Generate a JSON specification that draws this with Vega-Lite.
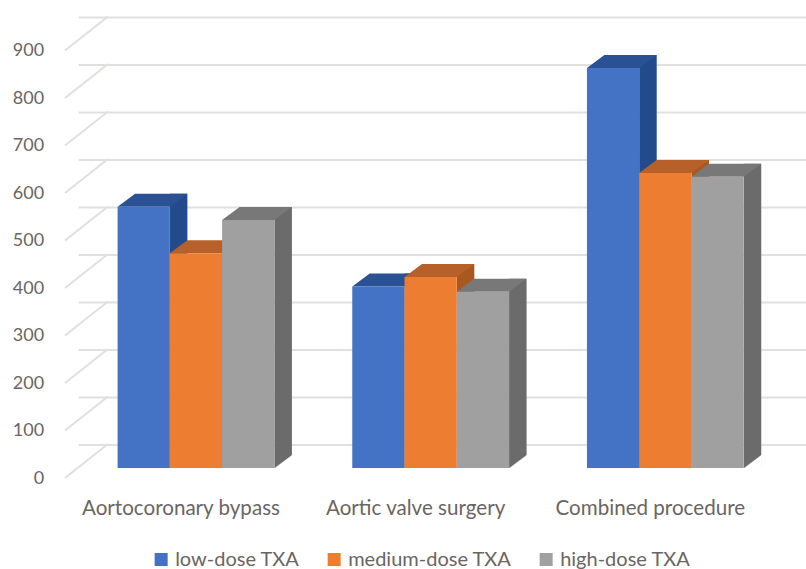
{"$schema":"https://vega.github.io/schema/vega-lite/v6.json","width":704,"height":427.5,"autosize":{"type":"none"},"padding":{"left":78.65,"top":40.5,"right":23.35,"bottom":101},"background":"white","view":{"stroke":null},"config":{"axisY":{"domain":false,"ticks":false,"grid":false,"tickCount":10,"labelPadding":35,"labelOffset":10,"labelFont":"Lato","labelFontSize":18,"labelColor":"#6a6563"}},"datasets":{"bars":[{"procedure":"Aortocoronary bypass","series":"low-dose TXA","value":550},{"procedure":"Aortocoronary bypass","series":"medium-dose TXA","value":452},{"procedure":"Aortocoronary bypass","series":"high-dose TXA","value":522},{"procedure":"Aortic valve surgery","series":"low-dose TXA","value":382},{"procedure":"Aortic valve surgery","series":"medium-dose TXA","value":402},{"procedure":"Aortic valve surgery","series":"high-dose TXA","value":371},{"procedure":"Combined procedure","series":"low-dose TXA","value":842},{"procedure":"Combined procedure","series":"medium-dose TXA","value":621},{"procedure":"Combined procedure","series":"high-dose TXA","value":613}],"ticks":[{"tick":0},{"tick":100},{"tick":200},{"tick":300},{"tick":400},{"tick":500},{"tick":600},{"tick":700},{"tick":800},{"tick":900}]},"resolve":{"scale":{"x":"independent","xOffset":"independent","color":"independent"}},"layer":[{"data":{"name":"ticks"},"mark":{"type":"rule","xOffset":29.35,"yOffset":-23,"stroke":"#e2e0df","strokeWidth":2},"encoding":{"y":{"field":"tick","type":"quantitative","title":null,"scale":{"domain":[0,900],"nice":false}}}},{"data":{"name":"ticks"},"mark":{"type":"point","shape":"M0,0L43,-34","size":4,"filled":false,"xOffset":-13.65,"yOffset":10,"stroke":"#e2e0df","strokeWidth":2,"opacity":1},"encoding":{"x":{"datum":0,"type":"quantitative","scale":{"domain":[0,1]},"axis":null},"y":{"field":"tick","type":"quantitative","title":null}}},{"data":{"name":"bars"},"mark":{"type":"rule","strokeWidth":17.5,"strokeCap":"butt","yOffset":-13},"encoding":{"x":{"field":"procedure","type":"nominal","sort":null,"scale":{"paddingInner":0.332,"paddingOuter":0.166},"axis":null},"xOffset":{"field":"series","type":"nominal","sort":null,"scale":{"range":[34.9,191.7]}},"y":{"field":"value","type":"quantitative","title":null},"y2":{"datum":0},"color":{"field":"series","type":"nominal","sort":null,"scale":{"range":["#234a8a","#a9581f","#6b6b6b"]},"legend":null}}},{"data":{"name":"bars"},"mark":{"type":"point","shape":"M26.15,0.5L44.2,0.5L44.2,-13Z","size":4,"filled":true,"opacity":1,"fill":"white","stroke":"white","strokeWidth":0.5},"encoding":{"x":{"field":"procedure","type":"nominal","sort":null,"scale":{"paddingInner":0.332,"paddingOuter":0.166},"axis":null},"xOffset":{"field":"series","type":"nominal","sort":null},"y":{"datum":0,"type":"quantitative","title":null}}},{"data":{"name":"bars"},"mark":{"type":"point","shape":"M-26.15,0L26.15,0L43.65,-13L-8.65,-13Z","size":4,"filled":true,"opacity":1},"encoding":{"x":{"field":"procedure","type":"nominal","sort":null,"scale":{"paddingInner":0.332,"paddingOuter":0.166},"axis":null},"xOffset":{"field":"series","type":"nominal","sort":null},"y":{"field":"value","type":"quantitative","title":null},"color":{"field":"series","type":"nominal","sort":null,"scale":{"range":["#2a5194","#b8602a","#787878"]},"legend":null}}},{"data":{"name":"bars"},"mark":{"type":"bar"},"encoding":{"x":{"field":"procedure","type":"nominal","sort":null,"scale":{"paddingInner":0.332,"paddingOuter":0.166},"axis":{"title":null,"labelAngle":0,"domain":false,"ticks":false,"labelPadding":30,"labelOffset":-15,"labelLimit":300,"labelFont":"Lato","labelFontSize":20.6,"labelColor":"#6a6563"}},"xOffset":{"field":"series","type":"nominal","sort":null},"y":{"field":"value","type":"quantitative","title":null},"color":{"field":"series","type":"nominal","sort":null,"scale":{"range":["#4472c4","#ed7d31","#a0a0a0"]},"legend":{"title":null,"orient":"none","legendX":72.5,"legendY":509,"direction":"horizontal","columns":3,"symbolType":"square","symbolSize":169,"symbolStrokeWidth":0,"labelFont":"Lato","labelFontSize":20,"labelColor":"#6a6563","labelOffset":4,"columnPadding":24,"labelLimit":300}}}}]}
